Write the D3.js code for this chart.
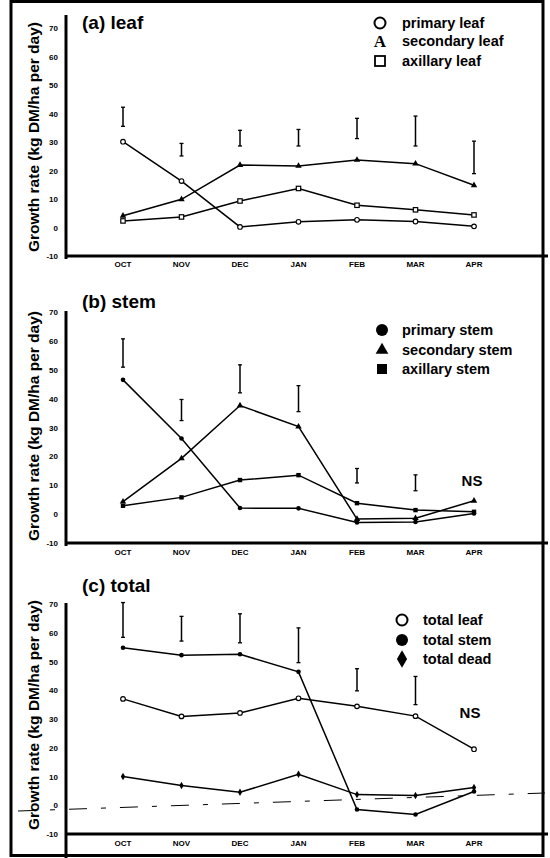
<!DOCTYPE html>
<html>
<head>
<meta charset="utf-8">
<script src="https://cdn.jsdelivr.net/npm/d3@7"></script>
<style>
  body { margin: 0; background: #fff; }
  svg { display: block; font-family: "Liberation Sans", Arial, sans-serif; }
</style>
</head>
<body>
<div id="chart"></div>
<script>
const months = ["OCT", "NOV", "DEC", "JAN", "FEB", "MAR", "APR"];
const yTicks = [-10, 0, 10, 20, 30, 40, 50, 60, 70];

// (a) leaf
const primaryLeaf = [30.1, 16.3, 0.2, 2.0, 2.7, 2.1, 0.4];
const secondaryLeaf = [4.1, 9.9, 21.9, 21.6, 23.7, 22.4, 14.8];
const axillaryLeaf = [2.3, 3.7, 9.3, 13.7, 7.8, 6.2, 4.4];
const leafBarLow = [35.5, 25.1, 28.6, 28.6, 31.2, 28.6, 18.9];
const leafBarHigh = [42.2, 29.5, 34.1, 34.4, 38.3, 39.1, 30.3];

// (b) stem
const primaryStem = [46.5, 26.2, 2.1, 2.0, -2.9, -2.7, 0.2];
const secondaryStem = [4.3, 19.3, 37.6, 30.3, -1.7, -1.4, 4.6];
const axillaryStem = [2.9, 5.8, 11.8, 13.5, 3.8, 1.4, 0.8];
const stemBarLow = [50.9, 32.4, 42.0, 35.5, 10.8, 8.1, null];
const stemBarHigh = [60.7, 39.7, 51.7, 44.5, 15.8, 13.6, null];

// (c) total
const totalLeaf = [37.0, 30.9, 32.1, 37.2, 34.4, 31.0, 19.5];
const totalStem = [54.8, 52.2, 52.5, 46.4, -1.5, -3.2, 4.8];
const totalDead = [10.0, 6.9, 4.5, 10.8, 3.7, 3.4, 6.2];
const totalBarLow = [58.4, 57.1, 56.5, 49.6, 39.8, 35.0, null];
const totalBarHigh = [70.5, 65.7, 66.6, 61.7, 47.5, 44.8, null];

const W = 550, H = 858;
const svg = d3.select("#chart").append("svg").attr("width", W).attr("height", H);

const x = d3.scalePoint().domain(months).range([123, 474]);
const axisX = 66;

const panels = [
  {
    title: "(a) leaf", titleY: 29, y: d3.scaleLinear().domain([-10, 70]).range([256, 28]),
    axisTop: 15, axisBottom: 259, monthY: 267, labelY: 137,
    series: [
      { values: primaryLeaf, marker: "circleOpen" },
      { values: secondaryLeaf, marker: "triangle" },
      { values: axillaryLeaf, marker: "squareOpen" }
    ],
    barLow: leafBarLow, barHigh: leafBarHigh,
    legend: { sx: 380, tx: 402, rows: [
      { y: 23, sym: "circleOpenBig", text: "primary leaf" },
      { y: 41, sym: "letterA", text: "secondary leaf" },
      { y: 61, sym: "squareOpenBig", text: "axillary leaf" }
    ] }
  },
  {
    title: "(b) stem", titleY: 308, y: d3.scaleLinear().domain([-10, 70]).range([543, 312]),
    axisTop: 311, axisBottom: 546, monthY: 555, labelY: 426,
    series: [
      { values: primaryStem, marker: "circle" },
      { values: secondaryStem, marker: "triangle" },
      { values: axillaryStem, marker: "square" }
    ],
    barLow: stemBarLow, barHigh: stemBarHigh, ns: { x: 472, y: 486 },
    legend: { sx: 382, tx: 402, rows: [
      { y: 330, sym: "circleBig", text: "primary stem" },
      { y: 350, sym: "triangleBig", text: "secondary stem" },
      { y: 369, sym: "squareBig", text: "axillary stem" }
    ] }
  },
  {
    title: "(c) total", titleY: 592, y: d3.scaleLinear().domain([-10, 70]).range([834, 604]),
    axisTop: 603, axisBottom: 858, monthY: 846, labelY: 715,
    series: [
      { values: totalLeaf, marker: "circleOpen" },
      { values: totalStem, marker: "circle" },
      { values: totalDead, marker: "diamond" }
    ],
    barLow: totalBarLow, barHigh: totalBarHigh, ns: { x: 470, y: 718 },
    legend: { sx: 402, tx: 423, rows: [
      { y: 620, sym: "circleOpenBig", text: "total leaf" },
      { y: 640, sym: "circleBig", text: "total stem" },
      { y: 659, sym: "diamondBig", text: "total dead" }
    ] }
  }
];

// frame
svg.append("rect").attr("x", 11).attr("y", 1.5).attr("width", 532).attr("height", 854)
  .attr("fill", "none").attr("stroke", "#000").attr("stroke-width", 3);

function drawMarker(g, type, cx, cy) {
  const sym = {
    circle: () => g.append("circle").attr("r", 2.3).attr("fill", "#000"),
    circleOpen: () => g.append("circle").attr("r", 2.3).attr("fill", "#fff").attr("stroke", "#000").attr("stroke-width", 1.2),
    triangle: () => g.append("path").attr("d", d3.symbol(d3.symbolTriangle, 18)()).attr("fill", "#000"),
    square: () => g.append("rect").attr("x", -2.2).attr("y", -2.2).attr("width", 4.4).attr("height", 4.4).attr("fill", "#000"),
    squareOpen: () => g.append("rect").attr("x", -2.2).attr("y", -2.2).attr("width", 4.4).attr("height", 4.4).attr("fill", "#fff").attr("stroke", "#000").attr("stroke-width", 1.2),
    diamond: () => g.append("path").attr("d", d3.symbol(d3.symbolDiamond, 16)()).attr("fill", "#000"),
    circleBig: () => g.append("circle").attr("r", 6).attr("fill", "#000"),
    circleOpenBig: () => g.append("circle").attr("r", 5.5).attr("fill", "#fff").attr("stroke", "#000").attr("stroke-width", 2),
    triangleBig: () => g.append("path").attr("d", d3.symbol(d3.symbolTriangle, 70)()).attr("fill", "#000"),
    squareBig: () => g.append("rect").attr("x", -5).attr("y", -5).attr("width", 10).attr("height", 10).attr("fill", "#000"),
    squareOpenBig: () => g.append("rect").attr("x", -5).attr("y", -5).attr("width", 10).attr("height", 10).attr("fill", "#fff").attr("stroke", "#000").attr("stroke-width", 1.8),
    diamondBig: () => g.append("path").attr("d", d3.symbol(d3.symbolDiamond, 90)()).attr("fill", "#000"),
    letterA: () => g.append("text").attr("y", 6).attr("text-anchor", "middle")
      .style("font-family", "'Liberation Serif', serif").style("font-weight", "bold").style("font-size", "17px").text("A")
  };
  const el = sym[type]();
  el.attr("transform", `translate(${cx},${cy})`);
}

panels.forEach(p => {
  const g = svg.append("g");
  const y = p.y;

  // axes
  g.append("line").attr("x1", axisX).attr("x2", axisX).attr("y1", p.axisTop).attr("y2", p.axisBottom)
    .attr("stroke", "#000").attr("stroke-width", 3);
  g.append("line").attr("x1", axisX).attr("x2", 548).attr("y1", y(-10)).attr("y2", y(-10))
    .attr("stroke", "#000").attr("stroke-width", 3);

  g.selectAll(".ytick").data(yTicks).enter().append("text")
    .attr("x", 58).attr("y", d => y(d) + 3)
    .attr("text-anchor", "end")
    .style("font-size", "8px").style("font-weight", "bold")
    .text(d => d);

  g.selectAll(".month").data(months).enter().append("text")
    .attr("x", d => x(d)).attr("y", p.monthY)
    .attr("text-anchor", "middle")
    .style("font-size", "8px").style("font-weight", "bold")
    .text(d => d);

  g.append("text")
    .attr("transform", `translate(39,${p.labelY}) rotate(-90)`)
    .attr("text-anchor", "middle")
    .style("font-size", "15.5px").style("font-weight", "bold")
    .text("Growth rate (kg DM/ha per day)");

  g.append("text").attr("x", 82).attr("y", p.titleY)
    .style("font-size", "19px").style("font-weight", "bold")
    .text(p.title);

  // LSD bars
  months.forEach((m, i) => {
    if (p.barLow[i] == null) return;
    const bx = x(m);
    g.append("line").attr("x1", bx).attr("x2", bx).attr("y1", y(p.barHigh[i])).attr("y2", y(p.barLow[i]))
      .attr("stroke", "#000").attr("stroke-width", 1.5);
    [p.barHigh[i], p.barLow[i]].forEach(v => {
      g.append("line").attr("x1", bx - 2).attr("x2", bx + 2).attr("y1", y(v)).attr("y2", y(v))
        .attr("stroke", "#000").attr("stroke-width", 1.3);
    });
  });

  if (p.ns) {
    g.append("text").attr("x", p.ns.x).attr("y", p.ns.y).attr("text-anchor", "middle")
      .style("font-size", "15px").style("font-weight", "bold").text("NS");
  }

  // series
  const line = d3.line().x((d, i) => x(months[i])).y(d => y(d));
  p.series.forEach(s => {
    g.append("path").datum(s.values).attr("d", line)
      .attr("fill", "none").attr("stroke", "#000").attr("stroke-width", 1.5);
  });
  p.series.forEach(s => {
    s.values.forEach((v, i) => drawMarker(g, s.marker, x(months[i]), y(v)));
  });

  // legend
  p.legend.rows.forEach(r => {
    drawMarker(g, r.sym, p.legend.sx, r.y);
    g.append("text").attr("x", p.legend.tx).attr("y", r.y + 5)
      .style("font-size", "14.5px").style("font-weight", "bold").text(r.text);
  });
});

// faint dashed scan line in panel (c)
svg.append("line").attr("x1", 18).attr("y1", 811).attr("x2", 545).attr("y2", 793)
  .attr("stroke", "#000").attr("stroke-width", 1).attr("stroke-dasharray", "18,14,5,14");
</script>
</body>
</html>
